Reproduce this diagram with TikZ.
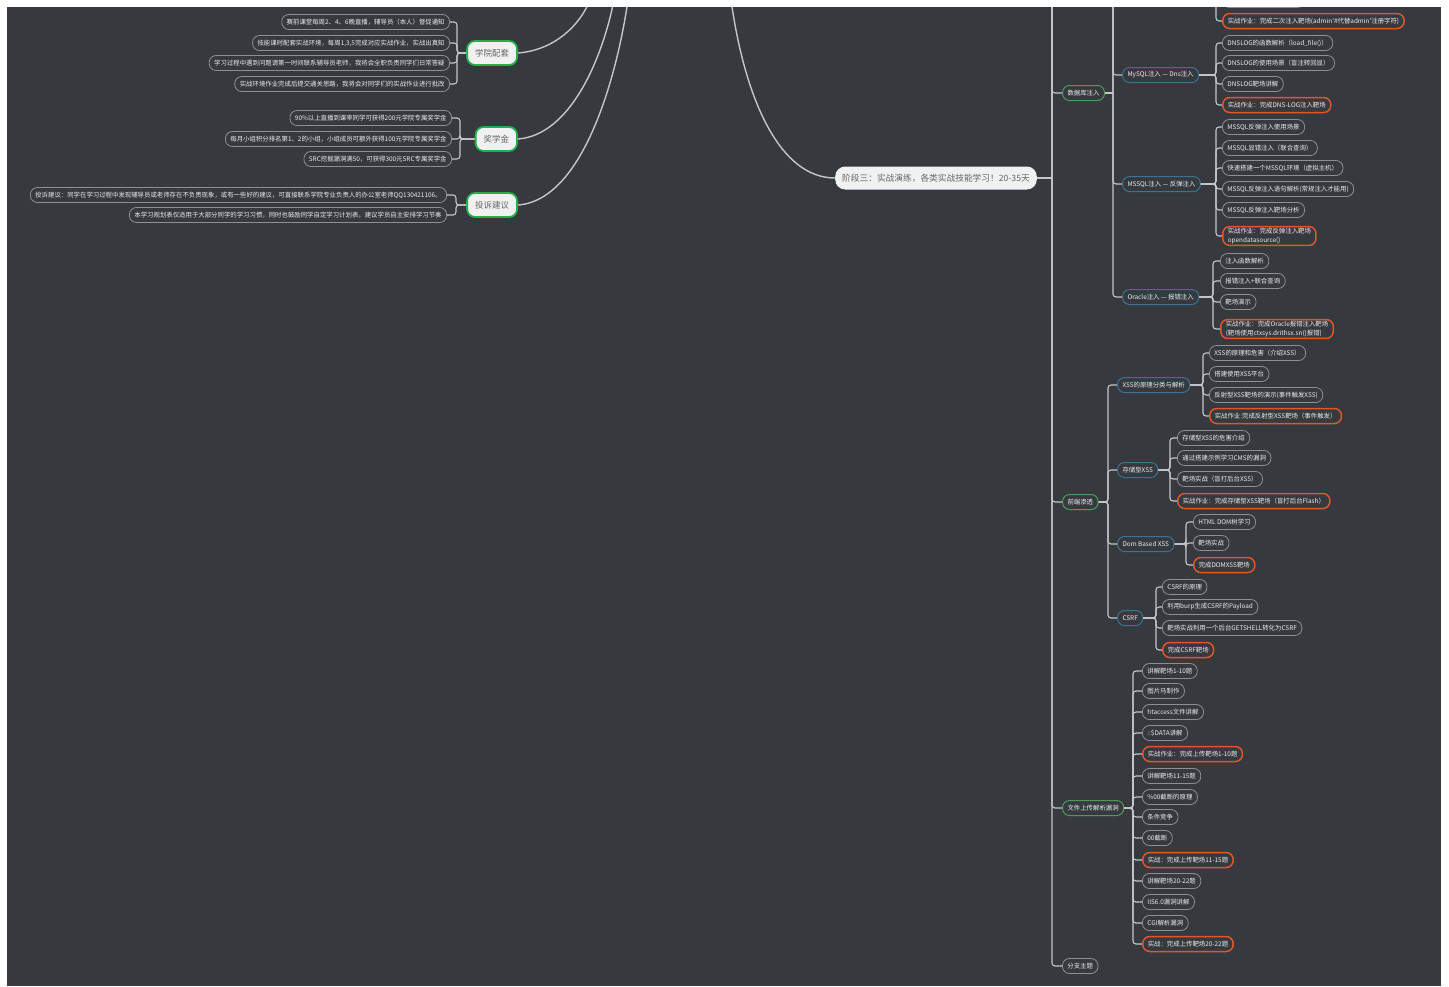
\documentclass[tikz,border=0pt]{standalone}
\usepackage{fontspec}
\newfontfamily\cjk{Noto Sans CJK SC}
\usetikzlibrary{calc}

\definecolor{bgdark}{HTML}{36393E}
\definecolor{linegray}{HTML}{C4C6C8}
\definecolor{leafgray}{HTML}{8C8F93}
\definecolor{leaftext}{HTML}{EDEDED}
\definecolor{taskorange}{HTML}{E0562A}
\definecolor{topicgreen}{HTML}{4E9A5C}
\definecolor{brightgreen}{HTML}{21B04B}
\definecolor{subblue}{HTML}{3C7391}
\definecolor{paper}{HTML}{F1F1F1}

\tikzset{
	leafbox/.style={draw=leafgray, fill=bgdark, text=leaftext, rounded corners=7pt, line width=0.8pt, inner xsep=5pt, inner ysep=1.5pt, minimum height=15pt, align=left, font=\cjk\fontsize{6.4}{9}\selectfont},
	taskbox/.style={leafbox, draw=taskorange, line width=1.5pt},
	topicbox/.style={leafbox, draw=topicgreen, line width=1pt},
	subbox/.style={leafbox, draw=subblue, line width=1pt},
	sidebox/.style={draw=brightgreen, fill=paper, text=black!60, line width=1.8pt, rounded corners=8pt, minimum height=24pt, inner xsep=8pt, font=\cjk\fontsize{8.5}{10}\selectfont},
	stagebox/.style={fill=paper, text=black!60, rounded corners=10pt, minimum height=23pt, inner xsep=7pt, font=\cjk\fontsize{8.7}{10}\selectfont},
	link/.style={draw=linegray, line width=1.1pt, rounded corners=3pt},
	curve/.style={draw=linegray, line width=1.4pt},
}

\begin{document}
\begin{tikzpicture}[x=1pt,y=-1pt]
	\useasboundingbox (0,0) rectangle (1449,986);
	\fill[white] (0,0) rectangle (1449,986);
	\fill[bgdark] (7,7) rectangle (1441,986);
	\begin{scope}
	\clip (7,7) rectangle (1441,986);
	\path
	(590,0) coordinate (rootA)
	(614,0) coordinate (rootB)
	(628,0) coordinate (rootC)
	(731,0) coordinate (rootD)
	;

	\node[sidebox, anchor=east] (peitao) at (518,53) {学院配套};
	\node[sidebox, anchor=east] (jiang) at (518,139) {奖学金};
	\node[sidebox, anchor=east] (tousu) at (518,205) {投诉建议};
	\draw[curve] (peitao.east) .. controls (555,50) and (580,25) .. (rootA);
	\draw[curve] (jiang.east) .. controls (570,135) and (602,60) .. (rootB);
	\draw[curve] (tousu.east) .. controls (585,200) and (618,70) .. (rootC);

	\foreach \y/\t [count=\i] in {22/{赛前课堂每周2、4、6晚直播，辅导员（本人）督促通知},43/{技能课时配套实战环境，每周1,3,5完成对应实战作业，实战出真知},63/{学习过程中遇到问题请第一时间联系辅导员老师，我将会全职负责同学们日常答疑},84/{实战环境作业完成后提交通关思路，我将会对同学们的实战作业进行批改}}{
		\node[leafbox, anchor=east] (peitao-\i) at (450,\y) {\t};
		\draw[link] (peitao.west) -- (457,53) |- (peitao-\i.east);
	}
	\foreach \y/\t [count=\i] in {118/{90\%以上直播到课率同学可获得200元学院专属奖学金},139/{每月小组积分排名第1、2的小组，小组成员可额外获得100元学院专属奖学金},159/{SRC挖掘漏洞满50，可获得300元SRC专属奖学金}}{
		\node[leafbox, anchor=east] (jiang-\i) at (452,\y) {\t};
		\draw[link] (jiang.west) -- (460,139) |- (jiang-\i.east);
	}
	\foreach \y/\t [count=\i] in {195/{投诉建议：同学在学习过程中发现辅导员或老师存在不负责现象，或有一些好的建议，可直接联系学院专业负责人的办公室老师QQ130421106。},215/{本学习规划表仅适用于大部分同学的学习习惯，同时也鼓励同学自定学习计划表，建议学员自主安排学习节奏}}{
		\node[leafbox, anchor=east] (tousu-\i) at (447,\y) {\t};
		\draw[link] (tousu.west) -- (456,205) |- (tousu-\i.east);
	}

	\node[stagebox, anchor=west] (stage3) at (835,178) {阶段三：实战演练，各类实战技能学习！20-35天};
	\draw[curve] (rootD) .. controls (745,100) and (780,178) .. (stage3.west);

	\node[topicbox, anchor=west] (shujuku) at (1062,93) {数据库注入};
	\node[topicbox, anchor=west] (qianduan) at (1062,502) {前端渗透};
	\node[topicbox, anchor=west] (shangchuan) at (1062,808) {文件上传解析漏洞};
	\node[leafbox, anchor=west] (fenzhi) at (1062,966) {分支主题};
	\draw[link] (stage3.east) -- (1052,178);
	\draw[link] (1052,0) |- (fenzhi.west);
	\foreach \n in {shujuku,qianduan,shangchuan} \draw[link] (1052,0) |- (\n.west);

	\node[subbox, anchor=west] (mysql) at (1122,75) {MySQL注入 — Dns注入};
	\node[subbox, anchor=west] (mssql) at (1122,184) {MSSQL注入 — 反弹注入};
	\node[subbox, anchor=west] (oracle) at (1122,297) {Oracle注入 — 报错注入};
	\draw[link] (shujuku.east) -- (1113,93);
	\foreach \n in {mysql,mssql,oracle} \draw[link] (1113,0) |- (\n.west);

	\node[leafbox, anchor=west, minimum width=82pt] (erci-0) at (1222,0) {};
	\node[taskbox, anchor=west] (erci) at (1222,21) {实战作业：完成二次注入靶场(admin'\#代替admin'注册字符)};
	\draw[link] (1216,0) |- (erci.west);

	\foreach \y/\s/\t [count=\i] in {43/leafbox/{DNSLOG的函数解析（load\_file()）},63/leafbox/{DNSLOG的使用场景（盲注转回显）},84/leafbox/{DNSLOG靶场讲解},105/taskbox/{实战作业：完成DNS-LOG注入靶场}}{
		\node[\s, anchor=west] (mysql-\i) at (1222,\y) {\t};
		\draw[link] (mysql.east) -- (1216,75) |- (mysql-\i.west);
	}
	\foreach \y/\s/\t [count=\i] in {127/leafbox/{MSSQL反弹注入使用场景},148/leafbox/{MSSQL显错注入（联合查询）},168/leafbox/{快速搭建一个MSSQL环境（虚拟主机）},189/leafbox/{MSSQL反弹注入语句解析(常规注入才能用)},210/leafbox/{MSSQL反弹注入靶场分析},236/taskbox/{实战作业：完成反弹注入靶场\\opendatasource()}}{
		\node[\s, anchor=west] (mssql-\i) at (1222,\y) {\t};
		\draw[link] (mssql.east) -- (1216,184) |- (mssql-\i.west);
	}
	\foreach \y/\s/\t [count=\i] in {261/leafbox/{注入函数解析},281/leafbox/{报错注入+联合查询},302/leafbox/{靶场演示},329/taskbox/{实战作业：完成Oracle报错注入靶场\\(靶场使用ctxsys.drithsx.sn()报错)}}{
		\node[\s, anchor=west] (oracle-\i) at (1220,\y) {\t};
		\draw[link] (oracle.east) -- (1213,297) |- (oracle-\i.west);
	}

	\node[subbox, anchor=west] (xss) at (1117,385) {XSS的原理分类与解析};
	\node[subbox, anchor=west] (cunchu) at (1117,470) {存储型XSS};
	\node[subbox, anchor=west] (dom) at (1117,544) {Dom Based XSS};
	\node[subbox, anchor=west] (csrf) at (1117,618) {CSRF};
	\foreach \n in {xss,cunchu,dom,csrf} \draw[link] (qianduan.east) -- (1108,502) |- (\n.west);

	\foreach \y/\s/\t [count=\i] in {353/leafbox/{XSS的原理和危害（介绍XSS）},374/leafbox/{搭建使用XSS平台},395/leafbox/{反射型XSS靶场的演示(事件触发XSS)},416/taskbox/{实战作业:完成反射型XSS靶场（事件触发）}}{
		\node[\s, anchor=west] (xss-\i) at (1209,\y) {\t};
		\draw[link] (xss.east) -- (1203,385) |- (xss-\i.west);
	}
	\foreach \y/\s/\t [count=\i] in {438/leafbox/{存储型XSS的危害介绍},458/leafbox/{通过搭建示例学习CMS的漏洞},479/leafbox/{靶场实战（盲打后台XSS）},501/taskbox/{实战作业：完成存储型XSS靶场（盲打后台Flash）}}{
		\node[\s, anchor=west] (cunchu-\i) at (1177,\y) {\t};
		\draw[link] (cunchu.east) -- (1170,470) |- (cunchu-\i.west);
	}
	\foreach \y/\s/\t [count=\i] in {522/leafbox/{HTML DOM树学习},543/leafbox/{靶场实战},565/taskbox/{完成DOMXSS靶场}}{
		\node[\s, anchor=west] (dom-\i) at (1193,\y) {\t};
		\draw[link] (dom.east) -- (1186,544) |- (dom-\i.west);
	}
	\foreach \y/\s/\t [count=\i] in {587/leafbox/{CSRF的原理},607/leafbox/{利用burp生成CSRF的Payload},628/leafbox/{靶场实战利用一个后台GETSHELL转化为CSRF},650/taskbox/{完成CSRF靶场}}{
		\node[\s, anchor=west] (csrf-\i) at (1162,\y) {\t};
		\draw[link] (csrf.east) -- (1156,618) |- (csrf-\i.west);
	}

	\foreach \y/\s/\t [count=\i] in {671/leafbox/{讲解靶场1-10题},691/leafbox/{图片马制作},712/leafbox/{htaccess文件讲解},733/leafbox/{::\$DATA讲解},754/taskbox/{实战作业：完成上传靶场1-10题},776/leafbox/{讲解靶场11-15题},797/leafbox/{\%00截断的原理},817/leafbox/{条件竞争},838/leafbox/{00截断},860/taskbox/{实战：完成上传靶场11-15题},881/leafbox/{讲解靶场20-22题},902/leafbox/{IIS6.0漏洞讲解},923/leafbox/{CGI解析漏洞},944/taskbox/{实战：完成上传靶场20-22题}}{
		\node[\s, anchor=west] (up-\i) at (1142,\y) {\t};
		\draw[link] (shangchuan.east) -- (1133,808) |- (up-\i.west);
	}
	\end{scope}
\end{tikzpicture}
\end{document}
